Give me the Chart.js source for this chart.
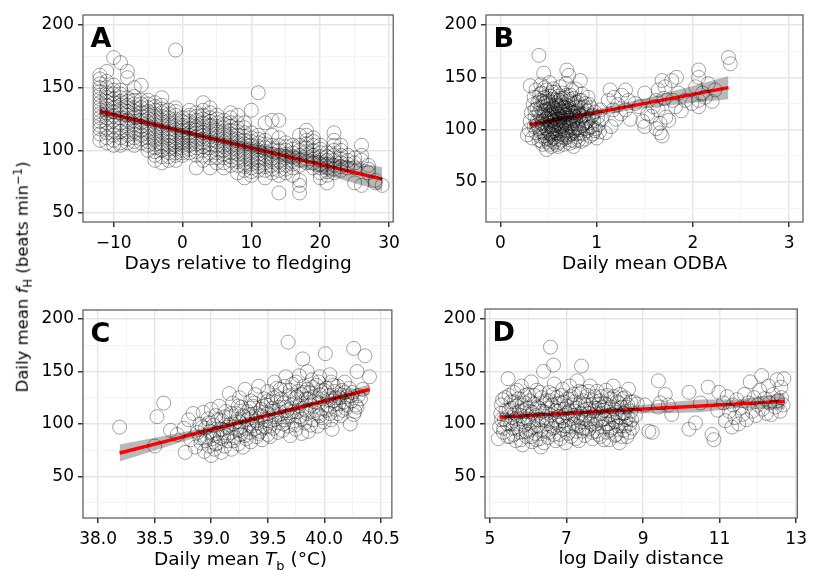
<!DOCTYPE html>
<html>
<head>
<meta charset="utf-8">
<script src="https://cdn.jsdelivr.net/npm/chart.js@4/dist/chart.umd.min.js"></script>
<style>
  html, body { margin: 0; padding: 0; background: #fff; }
  #wrap { position: relative; width: 813px; height: 570px; overflow: hidden; font-family: 'DejaVu Sans', sans-serif; color: #000; }
  canvas { position: absolute; }
  #ytitle {
    position: absolute; left: 23px; top: 277px; white-space: nowrap;
    font-size: 16.5px; line-height: 1;
    transform: translate(-50%, -50%) rotate(-90deg);
  }
  #xtitleC {
    position: absolute; left: 83px; width: 315px; top: 548px; text-align: center;
    font-size: 18.5px; line-height: 22px; white-space: nowrap;
  }
  sub, sup { font-size: 0.7em; line-height: 0; }
</style>
</head>
<body>
<div id="wrap">
  <canvas id="chartA" width="406" height="285" style="left:0;top:0"></canvas>
  <canvas id="chartB" width="407" height="285" style="left:406px;top:0"></canvas>
  <canvas id="chartC" width="406" height="285" style="left:0;top:285px"></canvas>
  <canvas id="chartD" width="407" height="285" style="left:406px;top:285px"></canvas>
  <div id="ytitle">Daily mean <i>f</i><sub>H</sub> (beats min<sup>−1</sup>)</div>
  <div id="xtitleC">Daily mean <i>T</i><sub>b</sub> (°C)</div>
</div>
<script>
// ---------- Panel A: heart rate by day relative to fledging ----------
var fledgeDays = [-12, -11, -10, -9, -8, -7, -6, -5, -4, -3, -2, -1, 0, 1, 2, 3, 4, 5, 6, 7, 8, 9, 10,
  11, 12, 13, 14, 15, 16, 17, 18, 19, 20, 21, 22, 23, 24, 25, 26, 27, 28, 29];
var fledgeRates = [
  [160, 157, 153, 150, 147, 144, 141, 138, 135, 132, 129, 126, 123, 120, 117, 113, 108],
  [163, 155, 150, 146, 142, 139, 136, 133, 130, 126, 122, 118, 114, 110, 106],
  [174, 152, 148, 145, 141, 138, 134, 131, 128, 124, 120, 116, 112, 108, 104],
  [170, 148, 145, 142, 139, 136, 133, 130, 126, 122, 118, 115, 110, 106, 104],
  [163, 158, 142, 139, 136, 134, 131, 128, 124, 121, 118, 115, 112, 109, 106],
  [150, 143, 140, 137, 134, 131, 128, 126, 123, 120, 116, 113, 110, 107, 104],
  [152, 140, 137, 134, 130, 127, 124, 122, 119, 116, 112, 109, 106],
  [140, 137, 134, 131, 128, 125, 122, 119, 116, 113, 110, 107, 104, 100],
  [138, 135, 132, 129, 126, 123, 120, 117, 114, 111, 108, 105, 102, 99, 96, 92],
  [142, 136, 133, 130, 127, 124, 121, 118, 115, 112, 109, 106, 103, 100, 95, 90],
  [132, 129, 126, 123, 120, 117, 114, 112, 110, 107, 104, 101, 98, 95, 92],
  [180, 134, 131, 128, 125, 122, 119, 116, 113, 110, 107, 104, 101, 98, 96, 92],
  [126, 123, 120, 118, 116, 114, 112, 110, 108, 106, 104, 102, 100, 98, 96],
  [132, 128, 126, 123, 120, 117, 114, 112, 110, 107, 104, 101, 98],
  [130, 127, 124, 121, 118, 116, 114, 111, 108, 105, 102, 99, 96, 86],
  [138, 132, 128, 125, 122, 119, 116, 114, 112, 109, 106, 103, 100, 96, 92],
  [134, 130, 126, 123, 120, 117, 114, 111, 108, 105, 102, 98, 94, 86],
  [128, 125, 122, 119, 116, 113, 110, 107, 104, 101, 98, 94, 90],
  [124, 121, 118, 115, 112, 109, 106, 103, 100, 97, 94, 90, 86],
  [130, 126, 122, 119, 116, 113, 110, 107, 104, 101, 98, 95, 92, 88],
  [128, 122, 118, 115, 112, 109, 106, 103, 100, 97, 94, 91, 88, 82],
  [122, 118, 114, 111, 108, 105, 102, 99, 96, 93, 90, 87, 84, 78],
  [132, 114, 110, 107, 104, 101, 98, 95, 92, 89, 86, 83, 80],
  [146, 112, 109, 106, 103, 100, 97, 94, 92, 90, 87, 84],
  [122, 108, 105, 102, 99, 96, 93, 90, 87, 84, 78],
  [124, 112, 104, 100, 97, 94, 91, 88, 85, 82],
  [124, 110, 104, 100, 96, 92, 88, 84, 80, 66],
  [106, 103, 100, 97, 94, 91, 88, 85, 82],
  [104, 101, 98, 95, 92, 89, 86, 80],
  [112, 104, 100, 96, 92, 88, 76, 72, 66],
  [116, 112, 108, 105, 102, 99, 96, 93, 90],
  [110, 107, 104, 100, 96, 93, 90, 86],
  [104, 101, 98, 95, 92, 89, 86, 82, 78],
  [98, 95, 92, 89, 86, 83, 80, 74],
  [114, 108, 104, 100, 96, 92, 88, 85, 82],
  [104, 100, 96, 93, 90, 87, 84],
  [96, 92, 89, 86],
  [94, 90, 86, 74],
  [104, 96, 92, 72],
  [88, 85, 82],
  [76, 74],
  [72]
];
var fitAx   = [-12, -5, 0, 5, 10, 15, 20, 25, 29];
var fitAy   = [131, 121.8, 115.2, 108.6, 102, 95.4, 88.8, 82.3, 77];
var fitAlow = [127, 119.3, 113.2, 106.1, 98.5, 89.9, 81.8, 73.8, 67.5];
var fitAhi  = [135, 124.3, 117.2, 111.1, 105.5, 100.9, 95.8, 90.8, 86.5];

// ---------- Panel B: heart rate vs daily mean ODBA ----------
var odbaPoints = [
  [0.28, 95], [0.30, 100], [0.31, 108], [0.32, 116], [0.33, 92], [0.34, 124], [0.35, 103], [0.35, 131], [0.31, 142], [0.36, 112], [0.37, 97], [0.37, 138],
  [0.38, 120], [0.39, 105], [0.40, 171], [0.40, 90], [0.41, 128], [0.42, 112], [0.42, 98], [0.43, 135], [0.44, 118], [0.44, 86], [0.45, 154], [0.45, 104], [0.45, 125], [0.46, 140], [0.46, 94],
  [0.47, 110], [0.48, 81], [0.48, 119], [0.49, 130], [0.49, 100], [0.50, 88], [0.50, 113], [0.51, 145], [0.51, 106], [0.52, 124], [0.52, 96], [0.53, 117], [0.53, 84], [0.54, 136], [0.54, 109], [0.55, 101], [0.55, 121], [0.55, 92],
  [0.56, 114], [0.57, 128], [0.57, 104], [0.58, 97], [0.58, 118], [0.59, 110], [0.59, 86], [0.60, 132], [0.60, 107], [0.61, 121], [0.61, 99], [0.62, 113], [0.62, 141], [0.63, 103], [0.63, 90], [0.64, 117], [0.64, 126], [0.65, 108], [0.65, 95], [0.65, 135],
  [0.66, 112], [0.67, 121], [0.67, 100], [0.68, 144], [0.68, 106], [0.69, 157], [0.69, 115], [0.70, 93], [0.70, 127], [0.71, 152], [0.71, 109], [0.72, 119], [0.72, 87], [0.73, 102], [0.73, 133], [0.74, 113], [0.74, 96], [0.75, 124], [0.75, 106],
  [0.76, 84], [0.76, 116], [0.77, 99], [0.78, 139], [0.78, 110], [0.79, 122], [0.80, 93], [0.80, 105], [0.81, 118], [0.82, 128], [0.82, 100], [0.83, 147], [0.83, 111], [0.84, 89], [0.84, 121], [0.85, 104], [0.85, 134],
  [0.86, 96], [0.87, 114], [0.88, 125], [0.88, 91], [0.89, 107], [0.90, 118], [0.90, 99], [0.91, 131], [0.92, 110], [0.93, 94], [0.94, 121], [0.95, 103], [0.95, 113],
  [0.96, 96], [0.97, 108], [0.98, 117], [0.99, 101], [1.00, 92], [1.01, 112], [1.02, 105], [1.03, 98], [1.04, 119], [1.05, 110],
  [0.52, 112], [0.56, 108], [0.58, 125], [0.60, 115], [0.62, 106], [0.54, 98], [0.50, 120], [0.66, 118], [0.68, 97], [0.70, 111], [0.57, 93], [0.63, 130], [0.47, 126], [0.44, 108], [0.40, 116], [0.53, 103], [0.61, 88], [0.72, 104], [0.49, 92], [0.77, 125],
  [0.36, 119], [0.38, 108], [0.39, 126], [0.40, 101], [0.41, 94], [0.41, 134], [0.42, 121], [0.43, 106], [0.43, 89], [0.44, 127], [0.45, 113], [0.45, 97], [0.46, 118], [0.46, 131], [0.47, 102], [0.47, 91],
  [0.48, 111], [0.48, 138], [0.49, 123], [0.49, 108], [0.50, 97], [0.50, 127], [0.51, 115], [0.51, 86], [0.52, 104], [0.52, 132], [0.53, 110], [0.53, 95], [0.54, 122], [0.54, 114], [0.55, 107], [0.55, 129],
  [0.56, 99], [0.56, 120], [0.56, 88], [0.57, 112], [0.57, 136], [0.58, 105], [0.58, 91], [0.59, 123], [0.59, 116], [0.60, 100], [0.60, 122], [0.61, 110], [0.61, 128], [0.62, 96], [0.62, 119], [0.63, 111],
  [0.63, 123], [0.64, 101], [0.64, 93], [0.65, 115], [0.65, 121], [0.66, 104], [0.66, 130], [0.67, 109], [0.67, 92], [0.68, 114], [0.68, 124], [0.69, 102], [0.69, 133], [0.70, 118], [0.70, 99], [0.71, 122],
  [0.71, 95], [0.72, 111], [0.72, 129], [0.73, 117], [0.73, 90], [0.74, 106], [0.74, 138], [0.75, 98], [0.75, 116], [0.76, 109], [0.76, 130], [0.77, 113], [0.77, 89], [0.78, 101], [0.78, 121], [0.79, 96],
  [0.79, 112], [0.80, 126], [0.80, 116], [0.81, 102], [0.81, 90], [0.82, 114], [0.83, 97], [0.84, 128], [0.85, 113], [0.86, 106], [0.87, 122], [0.88, 101], [0.89, 115], [0.90, 108], [0.92, 124], [0.93, 102],
  [0.96, 114], [0.98, 99], [0.42, 143], [0.55, 139], [0.66, 86], [0.60, 84], [0.52, 90],
  [1.09, 97], [1.12, 128], [1.14, 138], [1.15, 103], [1.17, 119], [1.18, 131], [1.20, 110], [1.22, 124], [1.25, 115], [1.26, 133], [1.30, 138], [1.30, 119], [1.33, 128], [1.35, 110], [1.40, 125], [1.44, 122], [1.48, 108],
  [1.50, 135], [1.50, 103], [1.53, 115], [1.57, 113], [1.59, 122], [1.62, 128], [1.62, 101], [1.64, 138], [1.64, 119], [1.66, 97], [1.66, 106], [1.68, 147], [1.68, 94], [1.70, 130], [1.71, 141], [1.72, 112], [1.75, 109],
  [1.78, 147], [1.79, 128], [1.82, 122], [1.83, 150], [1.85, 135], [1.88, 118], [1.92, 128], [1.99, 125], [2.03, 141], [2.06, 157], [2.06, 150], [2.06, 128], [2.06, 122], [2.10, 135], [2.13, 131], [2.16, 144], [2.20, 127], [2.23, 138], [2.37, 169], [2.39, 163]
];
var fitBx   = [0.3, 0.6, 1.0, 1.5, 2.0, 2.37];
var fitBy   = [104.6, 109.8, 116.6, 125.2, 133.8, 140.2];
var fitBlow = [101.1, 107.3, 113.6, 120.7, 125.8, 129.2];
var fitBhi  = [108.1, 112.3, 119.6, 129.7, 141.8, 151.2];

// ---------- Panel C: heart rate vs body temperature ----------
var tempPoints = [
  [38.19, 97], [38.50, 79], [38.52, 107], [38.58, 120], [38.64, 94], [38.70, 90], [38.77, 73], [38.76, 96], [38.80, 104], [38.82, 85], [38.84, 110], [38.86, 78],
  [38.88, 92], [38.90, 100], [38.91, 82], [38.93, 111], [38.94, 74], [38.95, 96], [38.96, 88], [38.97, 105], [38.98, 79], [38.99, 93], [39.00, 70], [39.00, 114],
  [39.01, 86], [39.02, 99], [39.03, 76], [39.04, 108], [39.05, 91], [39.06, 82], [39.07, 117], [39.08, 95], [39.09, 73], [39.10, 103],
  [39.11, 88], [39.12, 79], [39.13, 112], [39.14, 97], [39.15, 84], [39.16, 129], [39.16, 106], [39.17, 92], [39.18, 76], [39.19, 120], [39.20, 100],
  [39.21, 87], [39.22, 110], [39.23, 95], [39.24, 81], [39.25, 125], [39.25, 102], [39.26, 90], [39.27, 116], [39.28, 78], [39.29, 107], [39.30, 96], [39.30, 133],
  [39.31, 86], [39.32, 112], [39.33, 100], [39.34, 92], [39.35, 122], [39.35, 83], [39.36, 106], [39.37, 117], [39.38, 95], [39.39, 128], [39.40, 88], [39.40, 110],
  [39.41, 101], [39.42, 136], [39.43, 93], [39.44, 114], [39.45, 85], [39.46, 107], [39.47, 124], [39.48, 97], [39.49, 118], [39.50, 90], [39.50, 131], [39.50, 110],
  [39.51, 103], [39.52, 88], [39.53, 121], [39.54, 112], [39.55, 96], [39.56, 140], [39.57, 107], [39.58, 126], [39.59, 92], [39.60, 116], [39.60, 101],
  [39.61, 133], [39.62, 110], [39.63, 94], [39.64, 120], [39.65, 104], [39.66, 145], [39.67, 113], [39.68, 178], [39.68, 98], [39.69, 127], [39.70, 108], [39.70, 89],
  [39.71, 118], [39.72, 138], [39.73, 103], [39.74, 124], [39.75, 95], [39.76, 112], [39.77, 131], [39.78, 146], [39.78, 107], [39.79, 120], [39.80, 91], [39.80, 128],
  [39.81, 162], [39.81, 115], [39.82, 136], [39.83, 101], [39.84, 124], [39.85, 150], [39.85, 110], [39.86, 93], [39.87, 130], [39.88, 118], [39.89, 142], [39.90, 104],
  [39.91, 126], [39.92, 113], [39.93, 137], [39.94, 98], [39.95, 120], [39.96, 145], [39.96, 108], [39.97, 131], [39.98, 115], [39.99, 124], [40.00, 102], [40.01, 167],
  [40.02, 134], [40.03, 118], [40.04, 127], [40.05, 110], [40.06, 140], [40.07, 95], [40.08, 122], [40.09, 131], [40.10, 114], [40.10, 125],
  [40.12, 136], [40.13, 119], [40.14, 128], [40.15, 108], [40.16, 132], [40.17, 121], [40.18, 140], [40.19, 115], [40.20, 126],
  [40.22, 134], [40.23, 100], [40.24, 122], [40.25, 130], [40.26, 172], [40.27, 112], [40.28, 118], [40.29, 150], [40.29, 116], [40.30, 127], [40.32, 124], [40.34, 133], [40.36, 165], [40.40, 145],
  [38.90, 87], [38.92, 97], [38.95, 84], [38.98, 101], [39.02, 90], [39.04, 81], [39.06, 104], [39.08, 87], [39.10, 95], [39.12, 107], [39.14, 89], [39.16, 99], [39.18, 110], [39.20, 84],
  [39.22, 102], [39.24, 117], [39.26, 97], [39.28, 108], [39.30, 89], [39.32, 104], [39.34, 115], [39.36, 98], [39.38, 120], [39.40, 103], [39.42, 91], [39.44, 108], [39.46, 117], [39.48, 104],
  [39.50, 122], [39.52, 98], [39.54, 115], [39.56, 104], [39.58, 134], [39.60, 109], [39.62, 124], [39.64, 100], [39.66, 116], [39.68, 107], [39.70, 132], [39.72, 112], [39.74, 99], [39.76, 126],
  [39.78, 117], [39.80, 105], [39.82, 130], [39.84, 113], [39.86, 124], [39.88, 99], [39.90, 135], [39.92, 121], [39.94, 110], [39.96, 128], [39.98, 106], [40.00, 132], [40.02, 113], [40.04, 123],
  [40.06, 104], [40.08, 137], [40.10, 119], [40.12, 110], [40.14, 125], [40.16, 113], [40.18, 130], [40.20, 118], [40.24, 127], [40.26, 109], [39.55, 125], [39.45, 96], [39.35, 109], [39.25, 94],
  [39.65, 136], [39.75, 140], [39.85, 133], [39.95, 140], [40.05, 147]
];
var fitCx   = [38.19, 38.5, 39.0, 39.5, 40.0, 40.4];
var fitCy   = [72.4, 80.9, 94.6, 108.3, 121.9, 132.9];
var fitClow = [64.4, 74.9, 91.6, 106.3, 119.4, 127.9];
var fitChi  = [80.4, 86.9, 97.6, 110.3, 124.4, 137.9];

// ---------- Panel D: heart rate vs log daily distance ----------
var distPoints = [
  [5.22, 86], [5.25, 97], [5.28, 110], [5.30, 118], [5.35, 92], [5.38, 104], [5.40, 125], [5.45, 100], [5.47, 143], [5.50, 113], [5.52, 88], [5.55, 121], [5.58, 106],
  [5.60, 96], [5.62, 130], [5.65, 110], [5.68, 84], [5.70, 117], [5.72, 100], [5.75, 124], [5.78, 92], [5.80, 108], [5.82, 136], [5.85, 80], [5.88, 113], [5.90, 99], [5.92, 120], [5.95, 88], [5.98, 105],
  [6.00, 128], [6.03, 94], [6.05, 112], [6.08, 140], [6.10, 83], [6.12, 102], [6.15, 119], [6.18, 91], [6.20, 108], [6.22, 132], [6.25, 98], [6.28, 115], [6.30, 86], [6.33, 78], [6.35, 125], [6.38, 104], [6.40, 150], [6.42, 93], [6.45, 111], [6.48, 122],
  [6.50, 100], [6.52, 87], [6.55, 130], [6.58, 173], [6.60, 108], [6.62, 118], [6.65, 96], [6.66, 156], [6.68, 138], [6.70, 104], [6.72, 84], [6.75, 125], [6.78, 112], [6.80, 99], [6.82, 90], [6.85, 120], [6.88, 106], [6.90, 133], [6.92, 95], [6.95, 114], [6.98, 82],
  [7.00, 110], [7.03, 124], [7.05, 98], [7.08, 136], [7.10, 105], [7.12, 88], [7.15, 118], [7.18, 128], [7.20, 100], [7.22, 112], [7.25, 93], [7.28, 141], [7.30, 107], [7.32, 84], [7.35, 120], [7.38, 102], [7.39, 155], [7.40, 130], [7.42, 96], [7.45, 113], [7.48, 89],
  [7.50, 118], [7.52, 104], [7.55, 127], [7.58, 95], [7.60, 110], [7.62, 136], [7.65, 100], [7.68, 86], [7.70, 122], [7.72, 108], [7.75, 115], [7.78, 93], [7.80, 131], [7.82, 104], [7.85, 119], [7.88, 88], [7.90, 110], [7.92, 126], [7.95, 97], [7.98, 113],
  [8.00, 105], [8.03, 132], [8.05, 92], [8.08, 118], [8.10, 100], [8.12, 85], [8.15, 124], [8.18, 109], [8.20, 96], [8.22, 136], [8.25, 114], [8.28, 102], [8.30, 90], [8.32, 121], [8.35, 107], [8.38, 82], [8.40, 128], [8.42, 98], [8.45, 116], [8.48, 110],
  [8.50, 94], [8.52, 125], [8.55, 104], [8.58, 88], [8.60, 118], [8.62, 133], [8.65, 100], [8.68, 112], [8.72, 96], [8.75, 121], [8.80, 108], [8.85, 119],
  [5.30, 104], [5.33, 123], [5.36, 96], [5.42, 113], [5.46, 88], [5.50, 127], [5.54, 100], [5.57, 115], [5.61, 90], [5.64, 121], [5.67, 105], [5.71, 132], [5.74, 95], [5.77, 112], [5.81, 85],
  [5.84, 118], [5.87, 102], [5.91, 127], [5.94, 93], [5.97, 115], [6.01, 103], [6.04, 122], [6.07, 88], [6.11, 111], [6.14, 97], [6.17, 127], [6.21, 85], [6.24, 116], [6.27, 104], [6.31, 130],
  [6.34, 94], [6.37, 112], [6.41, 82], [6.44, 120], [6.47, 103], [6.51, 115], [6.54, 92], [6.57, 122], [6.61, 98], [6.64, 128], [6.67, 90], [6.71, 113], [6.74, 101], [6.77, 119], [6.81, 107],
  [6.84, 86], [6.87, 127], [6.91, 103], [6.94, 121], [6.97, 98], [7.01, 117], [7.04, 91], [7.07, 112], [7.11, 126], [7.14, 97], [7.17, 108], [7.21, 121], [7.24, 86], [7.27, 115], [7.31, 98],
  [7.34, 131], [7.37, 110], [7.41, 93], [7.44, 122], [7.47, 105], [7.51, 96], [7.54, 114], [7.57, 131], [7.61, 102], [7.64, 118], [7.67, 92], [7.71, 112], [7.74, 126], [7.77, 100], [7.81, 115],
  [7.84, 90], [7.87, 122], [7.91, 104], [7.94, 116], [7.97, 85], [8.01, 119], [8.04, 100], [8.07, 127], [8.11, 108], [8.14, 94], [8.17, 116], [8.21, 104], [8.24, 126], [8.27, 89], [8.31, 111],
  [8.34, 98], [8.37, 120], [8.41, 106], [8.44, 88], [8.47, 124], [8.51, 110], [8.54, 98], [8.57, 116], [8.61, 106], [8.64, 92], [8.67, 121], [8.70, 104],
  [9.05, 118], [9.15, 93], [9.24, 92], [9.40, 141], [9.40, 116], [9.45, 120], [9.58, 128], [9.66, 118], [9.75, 109], [10.20, 130], [10.20, 95], [10.37, 101], [10.50, 120], [10.70, 135], [10.80, 90], [10.85, 85], [10.98, 130], [10.95, 113],
  [11.10, 120], [11.15, 103], [11.20, 126], [11.25, 112], [11.32, 97], [11.35, 118], [11.40, 106], [11.45, 123], [11.50, 100], [11.55, 115], [11.60, 109], [11.65, 128], [11.70, 104], [11.75, 120], [11.80, 140], [11.85, 112], [11.90, 125], [11.95, 108],
  [12.00, 118], [12.05, 132], [12.10, 146], [12.12, 114], [12.18, 124], [12.22, 110], [12.28, 136], [12.30, 120], [12.35, 109], [12.40, 128], [12.45, 116], [12.50, 142], [12.52, 122], [12.58, 112], [12.60, 135], [12.62, 125], [12.66, 118], [12.68, 143]
];
var fitDx   = [5.25, 7, 8.5, 9.5, 10.5, 11.5, 12.7];
var fitDy   = [106.5, 110.0, 113.1, 115.1, 117.1, 119.1, 121.5];
var fitDlow = [103.0, 107.5, 110.1, 110.1, 111.1, 115.1, 113.5];
var fitDhi  = [110.0, 112.5, 116.1, 120.1, 123.1, 123.1, 129.5];

// ---------- Styling ----------
var FONT = "'DejaVu Sans', sans-serif";
var TEXT = '#000000';
var GRID_MAJOR = '#e6e6e6';
var GRID_MINOR = '#f3f3f3';
var CIRCLE = 'rgba(0,0,0,0.36)';
var RIBBON = 'rgba(128,128,128,0.55)';
var FIT_RED = '#ff0000';

Chart.defaults.font.family = FONT;
Chart.defaults.color = TEXT;

function isMajor(v, base, step) {
  var r = (v - base) / step;
  return Math.abs(r - Math.round(r)) < 1e-6;
}

function pairs(xs, ys) {
  return xs.map(function (x, i) { return { x: x, y: ys[i] }; });
}

function minusSign(v) { return String(v).replace('-', '\u2212'); }

// frame round the panel + bold panel letter in the top-left corner
var panelFrame = {
  id: 'panelFrame',
  afterDraw: function (chart, args, opts) {
    var a = chart.chartArea, ctx = chart.ctx;
    ctx.save();
    ctx.strokeStyle = '#555555';
    ctx.lineWidth = 1.2;
    ctx.strokeRect(a.left, a.top, a.right - a.left, a.bottom - a.top);
    ctx.fillStyle = '#000';
    ctx.font = 'bold 27px ' + FONT;
    ctx.textBaseline = 'alphabetic';
    ctx.textAlign = 'left';
    ctx.fillText(opts.letter, a.left + 7.5, a.top + 32);
    ctx.restore();
  }
};

function axis(p) {
  return {
    type: 'linear',
    min: p.min, max: p.max,
    grid: {
      color: function (c) { return isMajor(c.tick.value, p.base, p.major) ? GRID_MAJOR : GRID_MINOR; },
      lineWidth: function (c) { return isMajor(c.tick.value, p.base, p.major) ? 1.5 : 1; },
      tickColor: function (c) { return isMajor(c.tick.value, p.base, p.major) ? '#333333' : 'rgba(0,0,0,0)'; },
      tickLength: 5,
      tickWidth: 1.5,
    },
    border: { display: false },
    ticks: {
      stepSize: p.step,
      includeBounds: false,
      autoSkip: false,
      maxRotation: 0,
      padding: p.pad,
      color: TEXT,
      font: { family: FONT, size: 17 },
      callback: function (v) { return isMajor(v, p.base, p.major) ? (p.fmt ? p.fmt(v) : String(v)) : ''; },
    },
    title: p.title ? { display: true, text: p.title, color: TEXT, font: { family: FONT, size: 18.5 }, padding: 0 } : { display: false },
    afterFit: function (scale) {
      if (scale.isHorizontal()) scale.height = p.size; else scale.width = p.size;
    },
  };
}

function makePanel(id, cfg) {
  new Chart(document.getElementById(id), {
    type: 'scatter',
    data: {
      datasets: [
        { type: 'line', data: pairs(cfg.fitX, cfg.low), borderWidth: 0, pointRadius: 0, fill: false, order: 4 },
        { type: 'line', data: pairs(cfg.fitX, cfg.high), borderWidth: 0, pointRadius: 0, fill: '-1', backgroundColor: RIBBON, order: 3 },
        { type: 'line', data: pairs(cfg.fitX, cfg.fitY), borderColor: FIT_RED, borderWidth: 3.4, pointRadius: 0, tension: 0, fill: false, order: 2 },
        { data: cfg.points, pointRadius: 7, pointBorderWidth: 1, pointBorderColor: CIRCLE, pointBackgroundColor: 'rgba(0,0,0,0)', order: 1 },
      ],
    },
    options: {
      responsive: false,
      animation: false,
      events: [],
      layout: { padding: cfg.padding },
      scales: { x: axis(cfg.x), y: axis(cfg.y) },
      plugins: {
        legend: { display: false },
        tooltip: { enabled: false },
        panelFrame: { letter: cfg.letter },
      },
    },
    plugins: [panelFrame],
  });
}

var fledgePoints = [];
fledgeDays.forEach(function (d, i) {
  fledgeRates[i].forEach(function (r) { fledgePoints.push({ x: d, y: r }); });
});

function toXY(list) { return list.map(function (p) { return { x: p[0], y: p[1] }; }); }

makePanel('chartA', {
  letter: 'A', points: fledgePoints, fitX: fitAx, fitY: fitAy, low: fitAlow, high: fitAhi,
  padding: { left: 33, right: 8, top: 15, bottom: 10 },
  x: { min: -14.45, max: 30.6, step: 5, base: 0, major: 10, size: 53, pad: 6, title: 'Days relative to fledging', fmt: minusSign },
  y: { min: 42.8, max: 208, step: 25, base: 0, major: 50, size: 50, pad: 4 },
});

makePanel('chartB', {
  letter: 'B', points: toXY(odbaPoints), fitX: fitBx, fitY: fitBy, low: fitBlow, high: fitBhi,
  padding: { left: 30, right: 10, top: 15, bottom: 10 },
  x: { min: -0.15, max: 3.145, step: 0.5, base: 0, major: 1, size: 53, pad: 6, title: 'Daily mean ODBA' },
  y: { min: 11.8, max: 209.6, step: 25, base: 0, major: 50, size: 50, pad: 4 },
});

makePanel('chartC', {
  letter: 'C', points: toXY(tempPoints), fitX: fitCx, fitY: fitCy, low: fitClow, high: fitChi,
  padding: { left: 33, right: 8, top: 25, bottom: 0 },
  x: { min: 37.866, max: 40.598, step: 0.25, base: 38, major: 0.5, size: 52, pad: 6,
       fmt: function (v) { return v.toFixed(1); } },
  y: { min: 10.5, max: 208.6, step: 25, base: 0, major: 50, size: 50, pad: 4 },
});

makePanel('chartD', {
  letter: 'D', points: toXY(distPoints), fitX: fitDx, fitY: fitDy, low: fitDlow, high: fitDhi,
  padding: { left: 29, right: 10, top: 24, bottom: 0 },
  x: { min: 4.87, max: 13.03, step: 1, base: 5, major: 2, size: 52, pad: 6, title: 'log Daily distance' },
  y: { min: 10.5, max: 209.3, step: 25, base: 0, major: 50, size: 50, pad: 4 },
});
</script>
</body>
</html>
